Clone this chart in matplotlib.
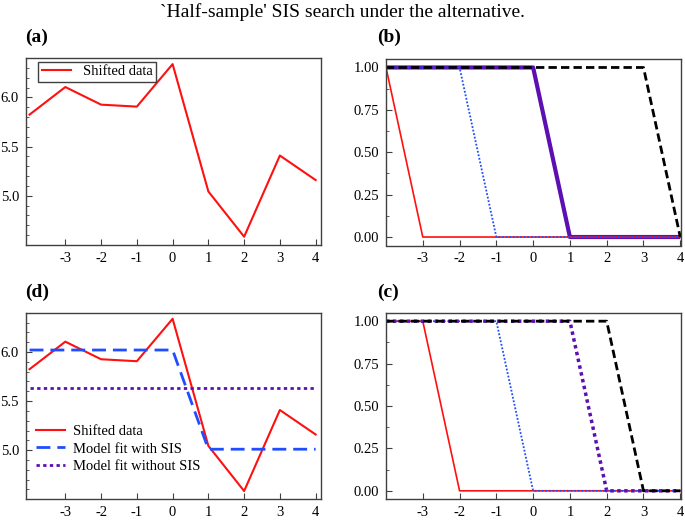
import matplotlib
matplotlib.use("Agg")
import matplotlib.pyplot as plt
from matplotlib.ticker import MultipleLocator

plt.rcParams['font.family'] = ['Liberation Serif', 'DejaVu Serif']
plt.rcParams['font.size'] = 10

# data
x = [-4, -3, -2, -1, 0, 1, 2, 3, 4]
shifted = [5.825, 6.105, 5.926, 5.906, 6.338, 5.044, 4.584, 5.409, 5.16]
fit_sis = [6.02, 6.02, 6.02, 6.02, 6.02, 5.01, 5.01, 5.01, 5.01]
fit_nosis = [5.63] * 9

# panel (b): inclusion of the step indicators, first half
b_red = [1, 0, 0, 0, 0, 0, 0, 0, 0]
b_blue = [1, 1, 1, 0, 0, 0, 0, 0, 0]
b_purple = [1, 1, 1, 1, 1, 0, 0, 0, 0]
b_black = [1, 1, 1, 1, 1, 1, 1, 1, 0]

# panel (c): second half
c_red = [1, 1, 0, 0, 0, 0, 0, 0, 0]
c_blue = [1, 1, 1, 1, 0, 0, 0, 0, 0]
c_purple = [1, 1, 1, 1, 1, 1, 0, 0, 0]
c_black = [1, 1, 1, 1, 1, 1, 1, 0, 0]

xticks = [-3, -2, -1, 0, 1, 2, 3, 4]

RED = '#ff1010'
BLUE = '#1f4dff'
PURPLE = '#5c0fb3'
SPINE = '#404040'

W, H = 685, 524
fig = plt.figure(figsize=(W / 100, H / 100), dpi=100)


def box(l, t, r, b):
    return [l / W, 1 - b / H, (r - l) / W, (b - t) / H]


ax_a = fig.add_axes(box(26, 58, 321, 245))
ax_b = fig.add_axes(box(386, 59, 681, 245.5))
ax_d = fig.add_axes(box(26, 312.7, 321, 499.3))
ax_c = fig.add_axes(box(386, 312.7, 681, 499.3))


def style(ax, minor):
    for s in ax.spines.values():
        s.set_color(SPINE)
        s.set_linewidth(1.0)
    ax.tick_params(which='both', direction='in', top=False, right=False,
                   color=SPINE, labelsize=10.5, pad=5)
    ax.tick_params(which='major', length=4)
    ax.tick_params(which='minor', length=2.5)
    ax.set_xticks(xticks)
    ax.set_xticklabels([str(v) for v in xticks])
    ax.yaxis.set_minor_locator(MultipleLocator(minor))


# (a)
ax_a.plot(x, shifted, color=RED, lw=1.5, label='Shifted data')
ax_a.set_xlim(-4.1, 4.15)
ax_a.set_ylim(4.5, 6.4)
ax_a.set_yticks([5.0, 5.5, 6.0])
style(ax_a, 0.1)
leg = ax_a.legend(loc='upper left', fancybox=False, edgecolor=SPINE,
                  framealpha=1, borderpad=0.25, borderaxespad=0.25,
                  bbox_to_anchor=(0.03, 1.0),
                  handlelength=2.0, fontsize=10.5)
leg.get_frame().set_linewidth(1.0)

# (d)
ax_d.plot(x, shifted, color=RED, lw=1.5, label='Shifted data')
ax_d.plot(x, fit_sis, color=BLUE, lw=2, dashes=(5, 2.5), label='Model fit with SIS')
ax_d.plot(x, fit_nosis, color=PURPLE, lw=2, dashes=(1.2, 1.2), label='Model fit without SIS')
ax_d.set_xlim(-4.1, 4.15)
ax_d.set_ylim(4.5, 6.4)
ax_d.set_yticks([5.0, 5.5, 6.0])
style(ax_d, 0.1)
ax_d.legend(loc='lower left', frameon=False, bbox_to_anchor=(-0.01, 0.07),
            handlelength=2.0, handletextpad=0.5, labelspacing=0.3,
            fontsize=10.5)

# (b)
ax_b.plot(x, b_purple, color=PURPLE, lw=3.0, solid_capstyle='butt')
ax_b.plot(x, b_red, color=RED, lw=1.2)
ax_b.plot(x, b_blue, color=BLUE, lw=1.3, dashes=(1, 1))
ax_b.plot(x, b_black, color='black', lw=2, dashes=(3, 1.5))

# (c)
ax_c.plot(x, c_red, color=RED, lw=1.2)
ax_c.plot(x, c_blue, color=BLUE, lw=1.3, dashes=(1, 1))
ax_c.plot(x, c_purple, color=PURPLE, lw=2.5, dashes=(1, 1))
ax_c.plot(x, c_black, color='black', lw=2, dashes=(3, 1.5))

for ax in (ax_b, ax_c):
    ax.set_xlim(-4, 4.02)
    ax.set_ylim(-0.05, 1.05)
    ax.set_yticks([0, 0.25, 0.5, 0.75, 1.0])
    ax.set_yticklabels(['0.00', '0.25', '0.50', '0.75', '1.00'])
    style(ax, 0.125)

# titles and panel letters
fig.text(342 / W, 1 - 12 / H, "`Half-sample' SIS search under the alternative.",
         ha='center', va='center', fontsize=14)
for lab, px, py in [('(a)', 25, 37), ('(b)', 377, 37), ('(d)', 25, 292), ('(c)', 377, 292)]:
    fig.text(px / W, 1 - py / H, lab, ha='left', va='center',
             fontsize=14, fontweight='bold')

fig.savefig('out.png', dpi=100)
